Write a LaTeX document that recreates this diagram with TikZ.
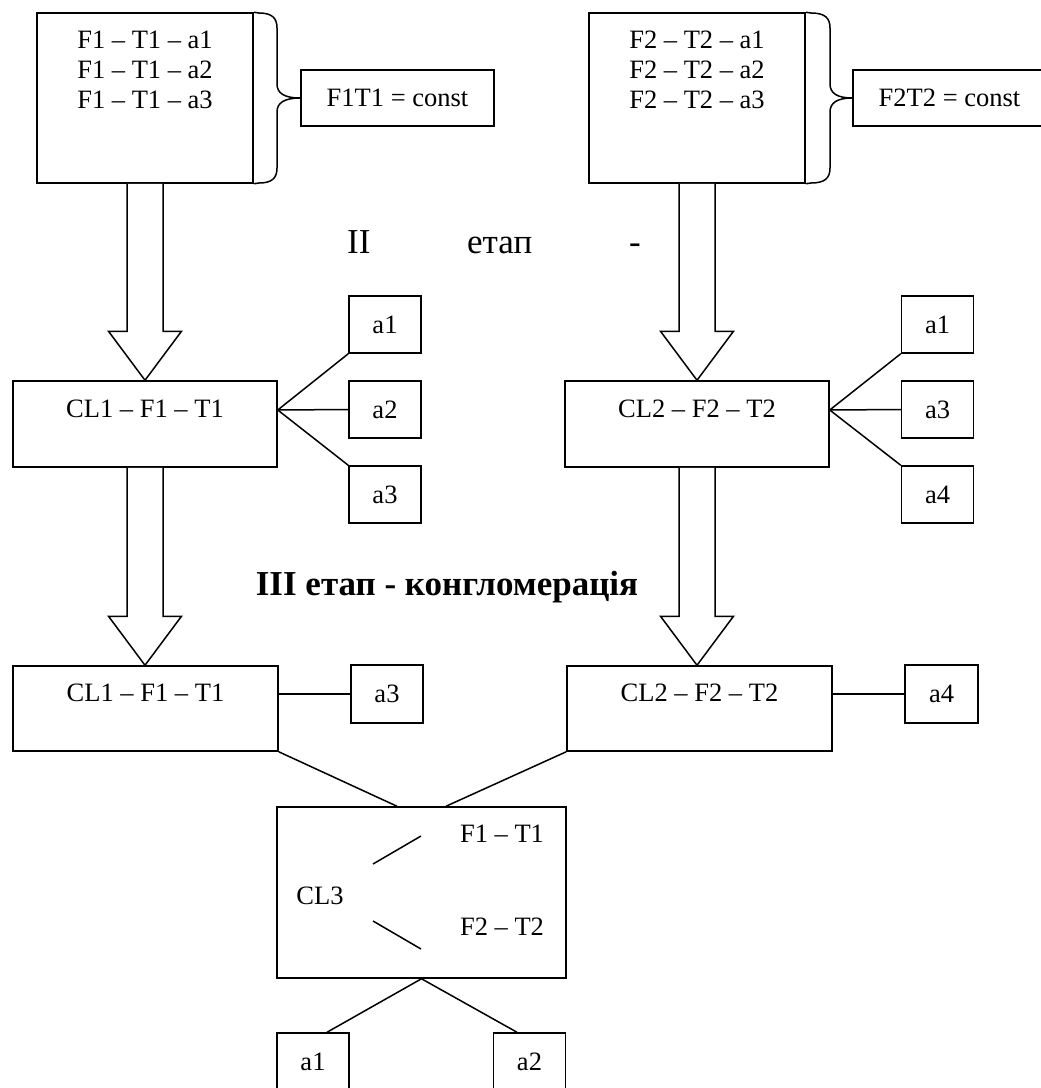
\documentclass[tikz,border=0pt]{standalone}
\usepackage{fontspec}
\setmainfont{Liberation Serif}
\usetikzlibrary{calc}
\newcommand{\blockarrow}[2]{%
  \coordinate (tipA) at (#1.south |- #2.north);
  \draw[blk] ($(#1.south)+(-18,0)$) -- ($(tipA)+(-18,-49)$) -- ($(tipA)+(-36.5,-49)$) -- (tipA)
    -- ($(tipA)+(36.5,-49)$) -- ($(tipA)+(18,-49)$) -- ($(#1.south)+(18,0)$);}
\begin{document}
\begin{tikzpicture}[x=1pt,y=-1pt,
  line/.style={line width=1.5pt},
  box/.style={draw, line width=1.5pt, inner sep=0pt, rectangle, font=\fontsize{26.5}{30}\selectfont},
  txt/.style={inner sep=0pt, font=\fontsize{26.5}{30}\selectfont},
  big/.style={inner sep=0pt, font=\fontsize{35}{40}\selectfont},
  abox/.style={box, minimum width=72pt, minimum height=57pt},
  clbox/.style={box, minimum width=264pt, minimum height=86pt},
  blk/.style={draw, line width=1.5pt, fill=white, line join=miter}]
\useasboundingbox (0,0) rectangle (1041,1088);
\fill[white] (0,0) rectangle (1041,1088);
\clip (0,0) rectangle (1041,1088);

% ---- top row ----
\node[box, minimum width=216pt, minimum height=170pt] (tl) at (145,98) {};
\node[txt, anchor=base] (tl1) at (145,48) {F1 – T1 – a1};
\node[txt, anchor=base] (tl2) at (145,78) {F1 – T1 – a2};
\node[txt, anchor=base] (tl3) at (145,108) {F1 – T1 – a3};
\node[box, minimum width=193pt, minimum height=56pt] (c1) at (397.5,98) {F1T1 = const};
\draw[line] (tl.north east) -- (259,13) .. controls (272,13) and (277,18) .. (277,28) -- (277,84)
  .. controls (277,93) and (284,98) .. (c1.west) .. controls (284,98) and (277,103) .. (277,112)
  -- (277,168) .. controls (277,178) and (272,183) .. (259,183) -- (tl.south east);

\node[box, minimum width=216pt, minimum height=170pt] (tr) at (697,98) {};
\node[txt, anchor=base] (tr1) at (697,48) {F2 – T2 – a1};
\node[txt, anchor=base] (tr2) at (697,78) {F2 – T2 – a2};
\node[txt, anchor=base] (tr3) at (697,108) {F2 – T2 – a3};
\node[box, minimum width=193pt, minimum height=56pt] (c2) at (949.5,98) {F2T2 = const};
\draw[line] (tr.north east) -- (811,13) .. controls (825,13) and (830,18) .. (830,28) -- (830,84)
  .. controls (830,93) and (837,98) .. (c2.west) .. controls (837,98) and (830,103) .. (830,112)
  -- (830,168) .. controls (830,178) and (825,183) .. (811,183) -- (tr.south east);

% ---- II stage label ----
\node[big, anchor=base west] (ii) at (347,253) {II};
\node[big, anchor=base west] (etap) at (467,253) {етап};
\node[big, anchor=base west] (dash) at (629,253) {-};

% ---- second row ----
\node[clbox] (cl1a) at (145,424) {};
\node[txt, anchor=base] (cl1at) at (145,417) {CL1 – F1 – T1};
\node[abox] (la1) at (385,324.5) {a1};
\node[abox] (la2) at (385,409.5) {a2};
\node[abox] (la3) at (385,494.5) {a3};
\coordinate (j1) at ($(cl1a.east)+(0,-14)$);
\draw[line] (j1) -- (la1.south west);
\draw[line] (j1) -- (la2.west);
\draw[line] (j1) -- (la3.north west);

\node[clbox] (cl2a) at (697,424) {};
\node[txt, anchor=base] (cl2at) at (697,417) {CL2 – F2 – T2};
\node[abox] (ra1) at (937.5,324.5) {a1};
\node[abox] (ra3) at (937.5,409.5) {a3};
\node[abox] (ra4) at (937.5,494.5) {a4};
\coordinate (j2) at ($(cl2a.east)+(0,-14)$);
\draw[line] (j2) -- (ra1.south west);
\draw[line] (j2) -- (ra3.west);
\draw[line] (j2) -- (ra4.north west);

\blockarrow{tl}{cl1a}
\blockarrow{tr}{cl2a}

% ---- III stage label ----
\node[inner sep=0pt, anchor=base, font=\fontsize{35}{40}\selectfont\bfseries] (iii) at (447,595) {III етап - конгломерація};

% ---- third row ----
\node[box, minimum width=265pt, minimum height=85pt] (cl1b) at (145.5,708.5) {};
\node[txt, anchor=base] (cl1bt) at (145.5,701) {CL1 – F1 – T1};
\node[box, minimum width=72pt, minimum height=58pt] (lb3) at (387,694) {a3};
\draw[line] (cl1b.east |- lb3.west) -- (lb3.west);

\node[box, minimum width=265pt, minimum height=85pt] (cl2b) at (699.5,708.5) {};
\node[txt, anchor=base] (cl2bt) at (699.5,701) {CL2 – F2 – T2};
\node[box, minimum width=73pt, minimum height=58pt] (rb4) at (941.5,694) {a4};
\draw[line] (cl2b.east |- rb4.west) -- (rb4.west);

\blockarrow{cl1a}{cl1b}
\blockarrow{cl2a}{cl2b}

% ---- CL3 ----
\node[box, minimum width=289pt, minimum height=171pt] (cl3) at (421.5,892.5) {};
\node[txt, anchor=base] (cl3t) at (320,904) {CL3};
\node[txt, anchor=base] (f1t1) at (502,842) {F1 – T1};
\node[txt, anchor=base] (f2t2) at (502,935) {F2 – T2};
\draw[line] (373,864) -- (421,836);
\draw[line] (373,921) -- (421,949);
\draw[line] (cl1b.south east) -- ($(cl3.north)+(-24.5,0)$);
\draw[line] (cl2b.south west) -- ($(cl3.north)+(24.5,0)$);

\node[abox] (ba1) at (313,1061.5) {a1};
\node[abox] (ba2) at (529.5,1061.5) {a2};
\draw[line] (cl3.south) -- ($(ba1.north)+(14,0)$);
\draw[line] (cl3.south) -- ($(ba2.north)+(-12.5,0)$);
\end{tikzpicture}
\end{document}
